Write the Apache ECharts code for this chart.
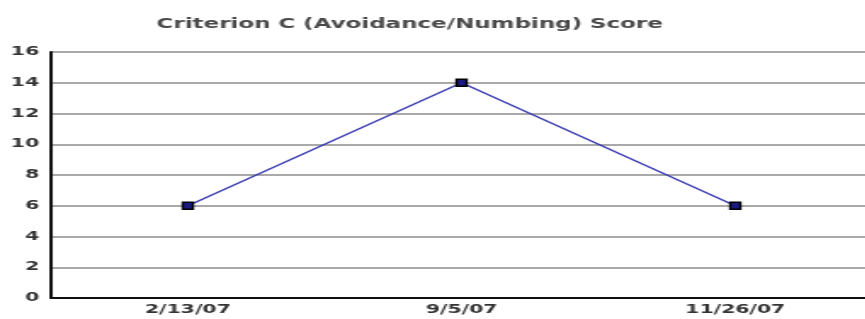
<!DOCTYPE html>
<html>
<head>
<meta charset="utf-8">
<script src="https://cdn.jsdelivr.net/npm/echarts@6/dist/echarts.min.js"></script>
<style>
  html, body { margin: 0; padding: 0; background: #fff; overflow: hidden; }
  /* the source picture is stretched sideways, so the chart is drawn narrow and widened */
  #chart { width: 509px; height: 319px; transform: scaleX(1.7); transform-origin: 0 0; }
</style>
</head>
<body>
<div id="chart"></div>
<script>
var dates = ['2/13/07', '9/5/07', '11/26/07']
var scores = [6, 14, 6]
var yTicks = [0, 2, 4, 6, 8, 10, 12, 14, 16]

var myChart = echarts.init(document.getElementById('chart'))

myChart.setOption({
  animation: false,
  title: {
    text: 'Criterion C (Avoidance/Numbing) Score',
    left: 236,
    textAlign: 'center',
    top: 12,
    textStyle: {
      fontFamily: 'DejaVu Sans',
      fontSize: 13.5,
      fontWeight: 'bold',
      color: '#4a4a4a'
    }
  },
  grid: {
    left: 30,
    top: 52,
    width: 483,
    height: 246,
    outerBoundsMode: 'none'
  },
  xAxis: {
    type: 'category',
    data: dates,
    boundaryGap: true,
    axisLine: { lineStyle: { color: '#111', width: 2 } },
    axisTick: { show: false },
    axisLabel: {
      margin: 6,
      fontFamily: 'DejaVu Sans',
      fontSize: 12,
      fontWeight: 'bold',
      color: '#333'
    }
  },
  yAxis: {
    type: 'value',
    min: 0,
    max: 16,
    interval: 2,
    axisLine: { show: true, lineStyle: { color: '#111', width: 2 } },
    axisTick: { show: false },
    axisLabel: {
      margin: 7,
      fontFamily: 'DejaVu Sans',
      fontSize: 12,
      fontWeight: 'bold',
      color: '#333',
      formatter: function(v) { return yTicks.indexOf(v) >= 0 ? String(v) : '' }
    },
    splitLine: { lineStyle: { color: '#8c8c8c', width: 1.5 } }
  },
  series: [
    {
      type: 'line',
      data: scores,
      symbol: 'rect',
      symbolSize: [6, 7],
      lineStyle: { color: '#3a3ab0', width: 1.5 },
      itemStyle: { color: '#1a1a80', borderColor: '#000', borderWidth: 1.5 }
    }
  ]
})
</script>
</body>
</html>
